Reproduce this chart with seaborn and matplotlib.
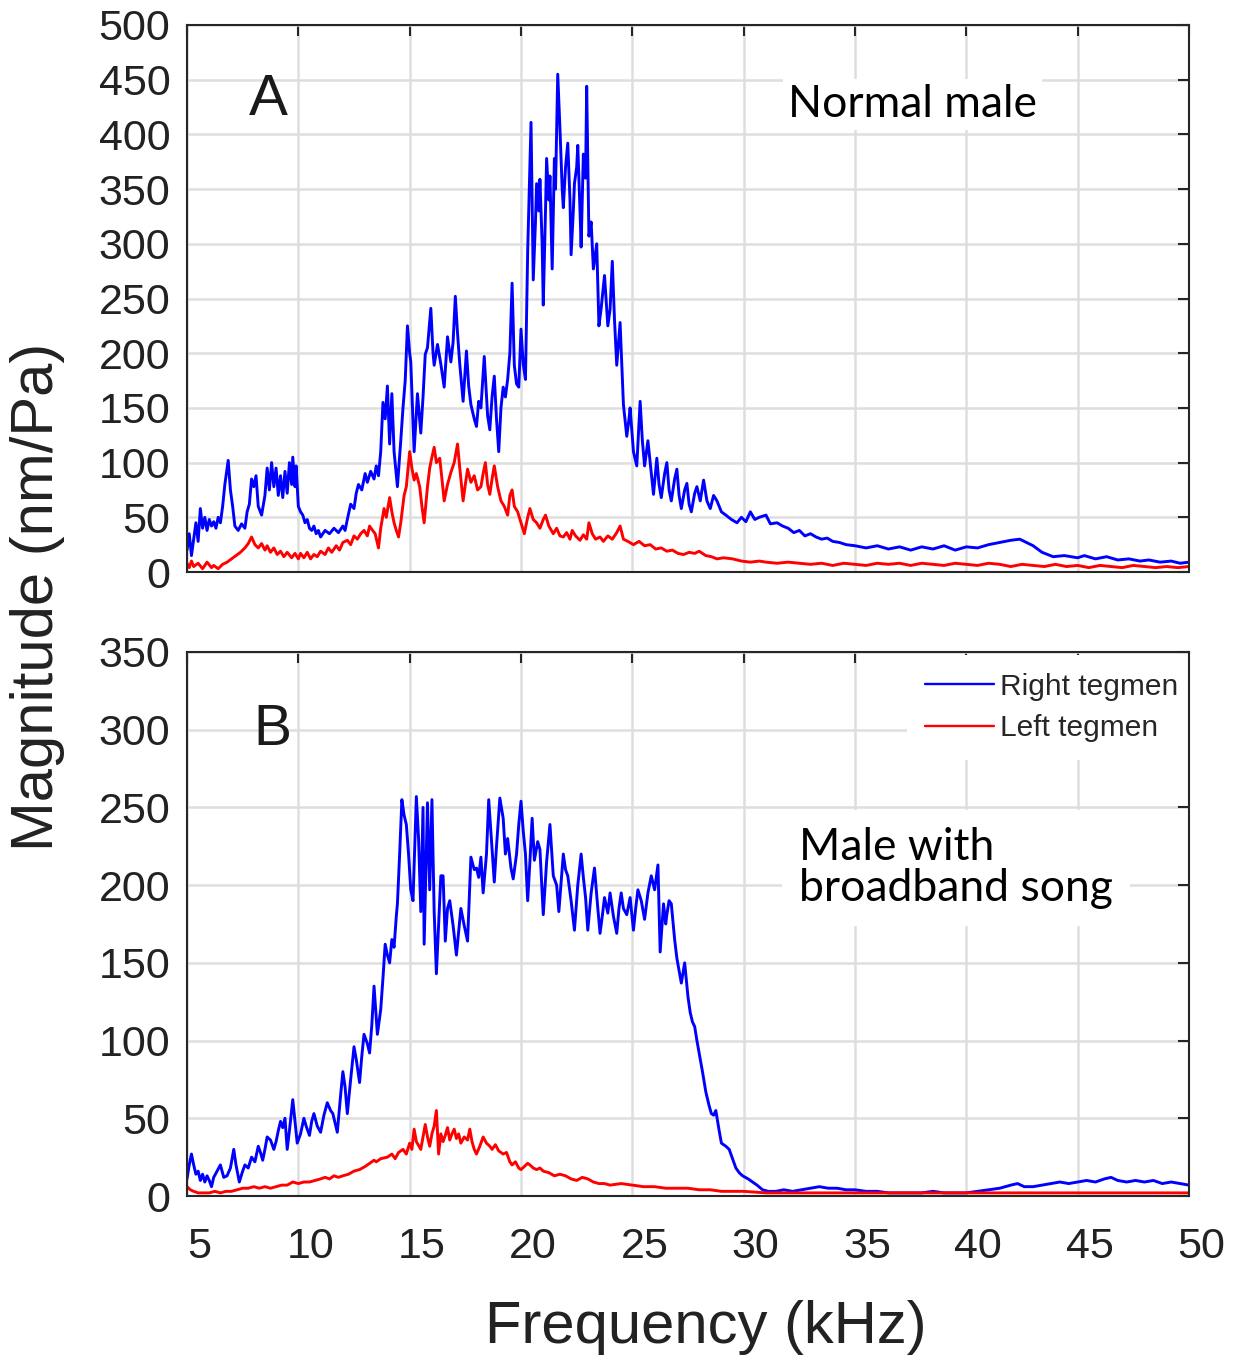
import numpy as np
import pandas as pd
import matplotlib
matplotlib.use("Agg")
import matplotlib.pyplot as plt
import seaborn as sns
from matplotlib.transforms import ScaledTranslation

# ---------------- data ----------------
# Panel A - Normal male, right tegmen (blue)
freq_A_right = [5.0, 5.1, 5.2, 5.3, 5.4, 5.5, 5.6, 5.7, 5.8, 5.9, 6.0, 6.1, 6.2, 6.3, 6.4, 6.5, 6.6, 6.7, 6.85, 6.95,
                7.05, 7.15, 7.3, 7.45, 7.6, 7.7, 7.8, 7.9, 8.0, 8.1, 8.2, 8.35, 8.5, 8.6, 8.7, 8.8, 8.9, 9.0, 9.1, 9.2,
                9.3, 9.4, 9.5, 9.6, 9.7, 9.75, 9.85, 9.9, 10.0, 10.1, 10.2, 10.3, 10.4, 10.5, 10.6, 10.7, 10.8, 10.9, 11.0, 11.2,
                11.4, 11.6, 11.8, 12.0, 12.1, 12.2, 12.35, 12.5, 12.6, 12.7, 12.85, 13.0, 13.1, 13.25, 13.4, 13.5, 13.6, 13.7, 13.8, 13.9,
                14.0, 14.1, 14.2, 14.3, 14.45, 14.6, 14.7, 14.8, 14.9, 15.0, 15.05, 15.2, 15.35, 15.5, 15.6, 15.7, 15.8, 15.95, 16.05, 16.1,
                16.25, 16.4, 16.55, 16.7, 16.85, 16.95, 17.05, 17.15, 17.25, 17.4, 17.55, 17.65, 17.75, 17.9, 18.0, 18.1, 18.2, 18.35, 18.5, 18.6,
                18.7, 18.8, 18.9, 19.0, 19.1, 19.2, 19.3, 19.4, 19.5, 19.6, 19.7, 19.8, 19.9, 20.0, 20.1, 20.2, 20.3, 20.45, 20.55, 20.65,
                20.7, 20.8, 20.85, 20.95, 21.0, 21.1, 21.15, 21.25, 21.3, 21.4, 21.5, 21.55, 21.65, 21.75, 21.85, 21.9, 22.0, 22.1, 22.2, 22.25,
                22.35, 22.4, 22.5, 22.55, 22.65, 22.7, 22.8, 22.9, 22.95, 23.05, 23.15, 23.25, 23.4, 23.5, 23.6, 23.75, 23.9, 24.0, 24.1, 24.2,
                24.3, 24.45, 24.6, 24.75, 24.85, 24.9, 25.05, 25.2, 25.35, 25.45, 25.55, 25.7, 25.85, 25.95, 26.1, 26.2, 26.3, 26.45, 26.55, 26.65,
                26.75, 26.9, 27.0, 27.1, 27.2, 27.35, 27.45, 27.55, 27.65, 27.8, 27.9, 28.05, 28.2, 28.35, 28.5, 28.65, 28.8, 29.0, 29.2, 29.45,
                29.7, 29.9, 30.1, 30.3, 30.5, 30.7, 31.0, 31.2, 31.5, 31.75, 32.0, 32.25, 32.5, 32.75, 33.0, 33.25, 33.5, 33.75, 34.0, 34.3,
                34.6, 35.0, 35.5, 36.0, 36.5, 37.0, 37.5, 38.0, 38.5, 39.0, 39.5, 40.0, 40.5, 41.0, 41.5, 42.0, 42.4, 42.7, 43.0, 43.4,
                43.9, 44.4, 45.0, 45.3, 45.8, 46.3, 46.8, 47.3, 47.8, 48.2, 48.7, 49.2, 49.6, 50.0]
mag_A_right = [20, 35, 15, 30, 45, 28, 58, 40, 50, 38, 48, 42, 46, 40, 50, 45, 60, 80, 102, 75,
               60, 42, 38, 44, 40, 55, 62, 85, 78, 88, 60, 52, 70, 95, 75, 100, 78, 95, 70, 88,
               68, 92, 72, 100, 80, 105, 78, 97, 60, 55, 52, 45, 48, 40, 38, 42, 35, 38, 32, 38,
               35, 40, 36, 42, 38, 48, 62, 58, 72, 80, 75, 90, 82, 92, 85, 97, 88, 110, 155, 140,
               170, 117, 163, 110, 78, 120, 150, 175, 225, 200, 192, 110, 163, 127, 160, 199, 205, 241, 200, 189,
               208, 190, 169, 215, 192, 210, 252, 218, 190, 156, 202, 170, 153, 140, 133, 156, 150, 197, 143, 130,
               160, 179, 140, 110, 150, 169, 160, 176, 200, 264, 189, 172, 169, 222, 190, 176, 293, 411, 267, 320,
               355, 330, 359, 300, 244, 330, 378, 340, 362, 277, 378, 350, 455, 405, 350, 333, 370, 392, 340, 290,
               330, 355, 370, 390, 330, 297, 382, 360, 444, 307, 320, 277, 300, 225, 241, 271, 225, 240, 284, 230,
               189, 228, 153, 124, 140, 150, 110, 97, 156, 120, 97, 120, 90, 71, 104, 80, 68, 90, 100, 75,
               65, 85, 94, 70, 58, 75, 81, 62, 55, 72, 78, 65, 84, 65, 58, 70, 65, 55, 52, 48,
               45, 50, 46, 55, 48, 50, 52, 44, 45, 42, 40, 36, 38, 33, 35, 32, 30, 31, 28, 27,
               25, 24, 22, 24, 21, 23, 20, 23, 21, 24, 20, 23, 22, 25, 27, 29, 30, 27, 24, 18,
               14, 15, 13, 15, 12, 14, 11, 12, 10, 11, 9, 10, 8, 9]

# Panel A - Normal male, left tegmen (red)
freq_A_left = [5.0, 5.1, 5.2, 5.3, 5.5, 5.7, 5.9, 6.1, 6.2, 6.4, 6.6, 6.8, 7.0, 7.2, 7.4, 7.6, 7.75, 7.9, 8.05, 8.2,
               8.35, 8.5, 8.6, 8.75, 8.9, 9.05, 9.2, 9.35, 9.5, 9.7, 9.85, 10.0, 10.1, 10.25, 10.4, 10.55, 10.7, 10.85, 11.0, 11.2,
               11.35, 11.5, 11.7, 11.85, 12.0, 12.2, 12.35, 12.5, 12.65, 12.8, 12.95, 13.1, 13.2, 13.3, 13.45, 13.6, 13.7, 13.85, 13.95, 14.1,
               14.2, 14.3, 14.4, 14.5, 14.6, 14.75, 14.85, 15.0, 15.1, 15.2, 15.3, 15.45, 15.55, 15.65, 15.8, 15.9, 16.0, 16.1, 16.2, 16.35,
               16.45, 16.55, 16.7, 16.85, 17.0, 17.15, 17.25, 17.4, 17.5, 17.6, 17.75, 17.9, 18.05, 18.2, 18.3, 18.4, 18.5, 18.6, 18.7, 18.8,
               18.95, 19.1, 19.25, 19.4, 19.5, 19.6, 19.7, 19.85, 20.0, 20.15, 20.3, 20.4, 20.55, 20.7, 20.85, 21.0, 21.1, 21.25, 21.45, 21.6,
               21.75, 21.9, 22.05, 22.2, 22.3, 22.45, 22.65, 22.8, 22.95, 23.05, 23.2, 23.35, 23.55, 23.7, 23.9, 24.1, 24.3, 24.45, 24.6, 24.8,
               25.05, 25.3, 25.55, 25.8, 26.05, 26.3, 26.55, 26.8, 27.05, 27.3, 27.55, 27.8, 28.0, 28.3, 28.55, 28.8, 29.1, 29.5, 29.9, 30.3,
               30.7, 31.0, 31.5, 32.0, 32.5, 33.0, 33.5, 34.0, 34.5, 35.0, 35.5, 36.0, 36.5, 37.0, 37.5, 38.0, 38.5, 39.0, 39.5, 40.0,
               40.5, 41.0, 41.5, 42.0, 42.5, 43.0, 43.5, 44.0, 44.5, 45.0, 45.5, 46.0, 46.5, 47.0, 47.5, 48.0, 48.5, 49.0, 49.5, 50.0]
mag_A_left = [8, 4, 10, 5, 8, 3, 9, 4, 6, 3, 7, 9, 12, 15, 18, 22, 26, 32, 25, 22,
              26, 20, 24, 18, 22, 16, 19, 14, 18, 13, 17, 12, 17, 13, 18, 12, 16, 14, 19, 16,
              22, 18, 24, 20, 27, 29, 25, 33, 30, 35, 38, 33, 42, 39, 35, 22, 40, 58, 50, 68,
              55, 45, 38, 32, 45, 70, 78, 110, 95, 84, 90, 78, 60, 45, 78, 95, 105, 114, 100, 104,
              85, 65, 80, 91, 100, 117, 95, 65, 80, 94, 82, 88, 75, 78, 90, 100, 80, 71, 85, 97,
              78, 65, 60, 52, 70, 75, 60, 55, 45, 35, 50, 58, 48, 45, 40, 48, 52, 42, 35, 40,
              33, 32, 36, 30, 38, 33, 29, 34, 30, 45, 35, 30, 32, 28, 33, 30, 36, 42, 30, 28,
              25, 28, 24, 25, 21, 22, 19, 20, 17, 16, 18, 17, 19, 15, 14, 12, 13, 12, 10, 9,
              10, 9, 8, 9, 8, 7, 8, 6, 8, 7, 6, 8, 7, 8, 6, 8, 7, 6, 8, 7,
              6, 8, 7, 5, 7, 6, 5, 7, 5, 6, 4, 6, 5, 4, 6, 5, 4, 5, 4, 5]

# Panel B - Male with broadband song, right tegmen (blue)
freq_B_right = [5.0, 5.1, 5.2, 5.3, 5.4, 5.5, 5.6, 5.7, 5.8, 5.9, 6.0, 6.1, 6.2, 6.35, 6.5, 6.65, 6.8, 6.95, 7.1, 7.2,
                7.35, 7.5, 7.6, 7.75, 7.9, 8.05, 8.2, 8.3, 8.4, 8.5, 8.6, 8.75, 8.9, 9.0, 9.1, 9.2, 9.3, 9.4, 9.5, 9.6,
                9.75, 9.85, 9.95, 10.1, 10.25, 10.35, 10.5, 10.6, 10.7, 10.85, 11.0, 11.15, 11.3, 11.45, 11.55, 11.75, 11.9, 12.0, 12.1, 12.2,
                12.35, 12.5, 12.6, 12.75, 12.85, 12.95, 13.1, 13.2, 13.3, 13.4, 13.5, 13.55, 13.65, 13.7, 13.8, 13.9, 14.0, 14.1, 14.2, 14.3,
                14.4, 14.45, 14.55, 14.65, 14.75, 14.85, 14.95, 15.05, 15.15, 15.3, 15.4, 15.5, 15.6, 15.65, 15.8, 15.9, 16.0, 16.1, 16.2, 16.3,
                16.4, 16.5, 16.6, 16.7, 16.8, 16.95, 17.1, 17.2, 17.3, 17.45, 17.6, 17.75, 17.9, 18.0, 18.1, 18.2, 18.3, 18.45, 18.55, 18.65,
                18.8, 18.9, 19.05, 19.2, 19.3, 19.4, 19.55, 19.65, 19.8, 19.9, 20.0, 20.1, 20.2, 20.3, 20.4, 20.5, 20.6, 20.75, 20.85, 21.0,
                21.15, 21.3, 21.45, 21.6, 21.7, 21.9, 22.0, 22.1, 22.25, 22.4, 22.55, 22.7, 22.8, 22.9, 23.0, 23.15, 23.3, 23.45, 23.55, 23.65,
                23.75, 23.9, 24.0, 24.15, 24.3, 24.4, 24.5, 24.6, 24.75, 24.9, 25.05, 25.15, 25.25, 25.4, 25.55, 25.7, 25.85, 26.0, 26.15, 26.25,
                26.4, 26.5, 26.55, 26.65, 26.75, 26.9, 27.0, 27.1, 27.2, 27.35, 27.5, 27.6, 27.7, 27.8, 27.9, 28.0, 28.15, 28.3, 28.45, 28.55,
                28.65, 28.75, 28.9, 29.0, 29.2, 29.35, 29.5, 29.65, 29.8, 29.95, 30.2, 30.4, 30.6, 30.85, 31.1, 31.45, 31.8, 32.2, 32.6, 33.0,
                33.4, 33.8, 34.2, 34.6, 35.0, 35.5, 36.0, 36.5, 37.0, 37.5, 38.0, 38.5, 39.0, 39.5, 40.0, 40.5, 41.0, 41.5, 42.0, 42.3,
                42.6, 43.0, 43.4, 43.8, 44.2, 44.6, 45.0, 45.4, 45.8, 46.2, 46.5, 46.8, 47.2, 47.6, 48.0, 48.4, 48.8, 49.2, 49.6, 50.0]
mag_B_right = [11, 20, 27, 20, 14, 16, 10, 14, 9, 13, 10, 6, 12, 16, 20, 12, 13, 18, 30, 20,
               9, 16, 20, 18, 25, 22, 32, 28, 23, 30, 38, 36, 30, 35, 42, 48, 44, 50, 30, 42,
               62, 48, 34, 40, 50, 45, 39, 48, 53, 45, 41, 52, 60, 55, 53, 41, 65, 80, 70, 53,
               75, 96, 88, 73, 90, 104, 98, 92, 110, 135, 115, 104, 115, 120, 140, 162, 155, 150, 165, 160,
               180, 188, 220, 255, 245, 239, 220, 197, 190, 257, 230, 183, 250, 162, 253, 197, 255, 183, 143, 175,
               206, 206, 164, 185, 190, 174, 155, 170, 185, 174, 164, 218, 210, 211, 205, 218, 195, 220, 255, 234,
               202, 225, 256, 243, 220, 230, 211, 204, 220, 239, 254, 235, 220, 190, 215, 243, 216, 228, 223, 181,
               215, 239, 206, 200, 183, 220, 210, 206, 190, 171, 200, 220, 205, 192, 171, 195, 211, 185, 169, 180,
               192, 182, 195, 180, 169, 185, 195, 185, 181, 192, 171, 185, 197, 190, 178, 195, 206, 197, 213, 157,
               188, 175, 181, 190, 188, 165, 153, 145, 137, 150, 128, 118, 112, 109, 100, 92, 80, 67, 58, 53,
               52, 55, 42, 34, 32, 30, 24, 18, 15, 13, 11, 9, 7, 4, 3, 3, 4, 3, 4, 5,
               6, 5, 5, 4, 4, 3, 3, 2, 2, 2, 2, 3, 2, 2, 2, 3, 4, 5, 7, 8,
               6, 6, 7, 8, 9, 8, 9, 10, 9, 11, 12, 10, 9, 10, 9, 10, 8, 9, 8, 7]

# Panel B - Male with broadband song, left tegmen (red)
freq_B_left = [5.0, 5.15, 5.3, 5.5, 5.75, 6.0, 6.25, 6.5, 6.75, 7.0, 7.25, 7.5, 7.75, 8.0, 8.25, 8.5, 8.75, 9.0, 9.25, 9.5,
               9.75, 10.0, 10.25, 10.5, 10.75, 11.0, 11.2, 11.4, 11.6, 11.8, 12.0, 12.25, 12.5, 12.75, 13.0, 13.2, 13.4, 13.5, 13.7, 14.0,
               14.2, 14.35, 14.5, 14.7, 14.85, 15.0, 15.1, 15.2, 15.3, 15.5, 15.6, 15.7, 15.8, 15.9, 16.0, 16.1, 16.2, 16.3, 16.4, 16.5,
               16.6, 16.7, 16.8, 16.9, 17.0, 17.1, 17.2, 17.3, 17.45, 17.6, 17.7, 17.8, 17.9, 18.0, 18.15, 18.3, 18.45, 18.6, 18.7, 18.85,
               19.0, 19.2, 19.35, 19.5, 19.6, 19.75, 19.9, 20.0, 20.15, 20.3, 20.4, 20.55, 20.7, 20.85, 21.0, 21.25, 21.5, 21.75, 22.0, 22.25,
               22.5, 22.75, 23.0, 23.25, 23.5, 23.75, 24.0, 24.5, 25.0, 25.5, 26.0, 26.5, 27.0, 27.5, 28.0, 28.5, 29.0, 29.5, 30.0, 31.0,
               32.0, 33.0, 34.0, 35.0, 36.0, 37.0, 38.0, 39.0, 40.0, 41.0, 42.0, 43.0, 44.0, 45.0, 46.0, 47.0, 48.0, 49.0, 50.0]
mag_B_left = [6, 4, 3, 2, 2, 2, 3, 2, 3, 3, 4, 5, 5, 6, 5, 6, 5, 6, 7, 7,
              9, 8, 9, 9, 10, 11, 12, 11, 13, 12, 13, 14, 16, 17, 19, 21, 23, 22, 24, 25,
              27, 24, 28, 30, 27, 34, 30, 43, 35, 30, 38, 46, 38, 32, 40, 45, 55, 27, 40, 35,
              39, 44, 36, 40, 43, 37, 40, 34, 38, 36, 43, 35, 30, 27, 32, 38, 34, 32, 30, 33,
              29, 27, 28, 22, 20, 22, 18, 17, 19, 21, 20, 18, 17, 18, 16, 15, 13, 14, 13, 11,
              10, 12, 11, 9, 8, 8, 7, 8, 7, 6, 6, 5, 5, 5, 4, 4, 3, 3, 3, 2,
              2, 2, 2, 2, 2, 2, 2, 2, 2, 2, 2, 2, 2, 2, 2, 2, 2, 2, 2]

x_ticks = [5, 10, 15, 20, 25, 30, 35, 40, 45, 50]
y_ticks_A = [0, 50, 100, 150, 200, 250, 300, 350, 400, 450, 500]
y_ticks_B = [0, 50, 100, 150, 200, 250, 300, 350]
series_names = ["Right tegmen", "Left tegmen"]
series_colors = {"Right tegmen": "#0000ff", "Left tegmen": "#ff0000"}

# ---------------- styling ----------------
sns.set_style("white")
plt.rcParams["font.family"] = ["Liberation Sans", "DejaVu Sans"]
plt.rcParams["axes.unicode_minus"] = False

W, H = 1248, 1359
fig = plt.figure(figsize=(W / 100, H / 100), dpi=100)

def axes_rect(left, right, top, bottom):
    return [left / W, 1 - bottom / H, (right - left) / W, (bottom - top) / H]

axA = fig.add_axes(axes_rect(187, 1189, 25, 572))
axB = fig.add_axes(axes_rect(187, 1189, 652, 1196))

spine_col = "#262626"
LW = 2.1

def panel(ax, fr, mr, fl, ml, yticks, show_legend):
    df = pd.DataFrame({
        "Frequency": list(fr) + list(fl),
        "Magnitude": list(mr) + list(ml),
        "Side": [series_names[0]] * len(fr) + [series_names[1]] * len(fl),
    })
    sns.lineplot(data=df, x="Frequency", y="Magnitude", hue="Side",
                 hue_order=series_names, palette=series_colors,
                 estimator=None, sort=False, linewidth=LW, ax=ax,
                 legend=show_legend)
    ax.set_xlim(x_ticks[0], x_ticks[-1])
    ax.set_ylim(yticks[0], yticks[-1])
    ax.set_xticks(x_ticks)
    ax.set_yticks(yticks)
    ax.grid(True, color="#dedede", linewidth=1.8)
    ax.set_axisbelow(True)
    ax.set_xlabel("")
    ax.set_ylabel("")
    for s in ax.spines.values():
        s.set_visible(True)
        s.set_color(spine_col)
        s.set_linewidth(1.5)
        s.set_zorder(3)
    ax.tick_params(axis="both", direction="in", length=8, width=1.5,
                   color=spine_col, labelcolor="#222222", labelsize=31,
                   top=True, right=True)
    ax.tick_params(axis="y", pad=12)
    ax.tick_params(axis="x", pad=22)

panel(axA, freq_A_right, mag_A_right, freq_A_left, mag_A_left, y_ticks_A, False)
panel(axB, freq_B_right, mag_B_right, freq_B_left, mag_B_left, y_ticks_B, True)

axA.tick_params(axis="x", labelbottom=False)

# shift the x tick labels slightly to the right, as in the original
offset = ScaledTranslation(12 / 100, 0, fig.dpi_scale_trans)
for lab in axB.get_xticklabels():
    lab.set_transform(lab.get_transform() + offset)

# legend (kept beneath the axes frame so the right spine stays visible)
handles, labels = axB.get_legend_handles_labels()
leg = axB.legend(handles, labels, loc="upper right", bbox_to_anchor=(1.0 + 10 / 1002, 1.0),
                 frameon=True, facecolor="white", edgecolor="none", framealpha=1,
                 fontsize=21.5, handlelength=2.3, handletextpad=0.2,
                 labelspacing=0.45, borderpad=0.6, borderaxespad=0.1)
leg.set_zorder(2.6)
for line in leg.get_lines():
    line.set_linewidth(1.7)

# panel letters and annotations
axA.text(8.66, 431, "A", fontsize=42, ha="center", va="center", color="#1a1a1a")
axB.text(8.84, 300, "B", fontsize=41, ha="center", va="center", color="#1a1a1a")

axA.text(31.99, 416, "Normal male", fontsize=32, family=["Lato", "DejaVu Sans"],
         ha="left", va="baseline", color="black",
         bbox=dict(facecolor="white", edgecolor="none", pad=4))
axB.text(32.5, 190, "Male with\nbroadband song", fontsize=32, family=["Lato", "DejaVu Sans"],
         ha="left", va="baseline", color="black", linespacing=1.0,
         bbox=dict(facecolor="white", edgecolor="none", pad=12))

# axis labels
fig.text(705.5 / W, 1 - 1343 / H, "Frequency (kHz)", fontsize=43, ha="center",
         va="baseline", color="#222222")
fig.text(38 / W, 1 - 597 / H, "Magnitude (nm/Pa)", fontsize=43, ha="center",
         va="center", rotation=90, color="#222222")

fig.savefig("out.png", dpi=100)
